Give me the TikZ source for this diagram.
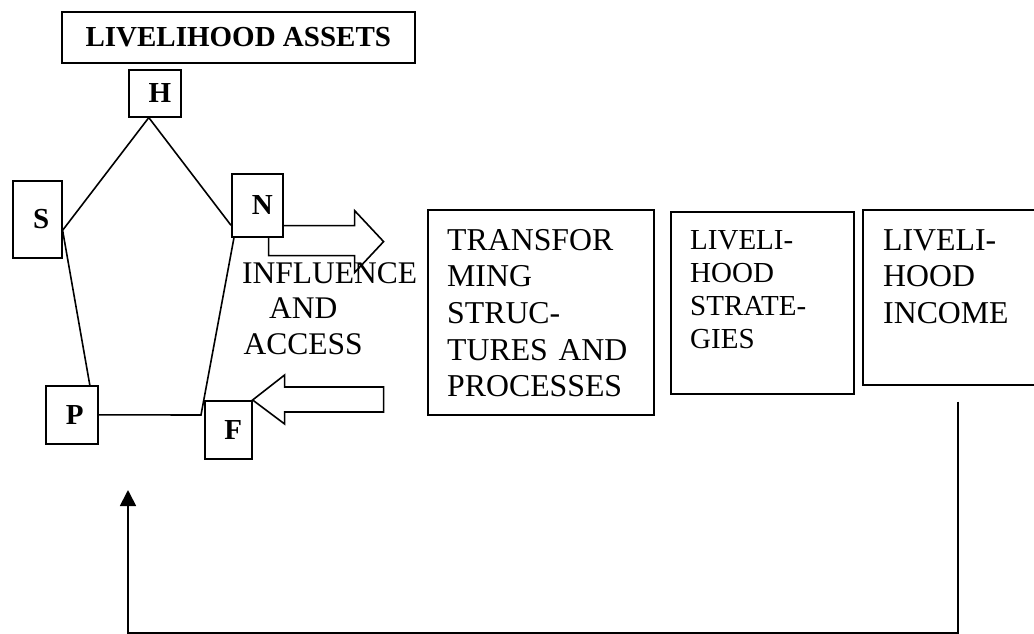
\documentclass[tikz,border=0pt]{standalone}
\usepackage{fontspec}
\setmainfont{Liberation Serif}
\usepackage{tikz}
\usetikzlibrary{positioning,calc,arrows.meta,backgrounds}

\begin{document}
\begin{tikzpicture}[x=1pt, y=-1pt,
    framebox/.style={draw, line width=1.6pt, fill=white, inner sep=0pt, anchor=north west},
    assetbox/.style={framebox, font=\fontsize{29}{34}\selectfont\bfseries},
    boxtext/.style={anchor=base west, align=left, inner sep=0pt, text width=#1},
    linkline/.style={line width=1.6pt},
    blockarrow/.style={draw, line width=1.6pt, fill=white, line join=miter},
    feedback/.style={line width=1.8pt, -{Triangle[width=16pt,length=16pt]}}]
  \useasboundingbox (0,0) rectangle (1034,633);
  \node[framebox, minimum width=353pt, minimum height=51pt,
        font=\fontsize{29}{34}\selectfont\bfseries] (assets) at (61,11) {LIVELIHOOD ASSETS};
  \node[assetbox, minimum width=52pt, minimum height=47pt] (H) at (128,69) {\hspace*{10pt}H};
  \node[assetbox, minimum width=49pt, minimum height=77pt] (S) at (12,180) {\hspace*{8pt}S};
  \node[assetbox, minimum width=51pt, minimum height=63pt] (N) at (231,173) {\hspace*{10pt}N};
  \node[assetbox, minimum width=52pt, minimum height=58pt] (P) at (45,385) {\hspace*{6pt}P};
  \node[assetbox, minimum width=47pt, minimum height=58pt] (F) at (204,400) {\hspace*{10pt}F};
  \coordinate (bend) at (201,415);
  \draw[linkline] ([xshift=-6pt]H.south) -- ([yshift=-11pt]S.east) -- ([xshift=18pt]P.north);
  \draw[linkline] ([xshift=-6pt]H.south) -- ([yshift=-20pt]N.west);
  \draw[linkline] (P.east) -- (bend) -- ([xshift=3pt]N.south west);
  \begin{scope}[on background layer]
    \draw[blockarrow] ([shift={(-15pt,-18pt)}]N.south east) -- ++(86,0) -- ++(0,17)
      -- ++(29,-31) -- ++(-29,-31) -- ++(0,15) -- ++(-86,0) -- cycle;
  \end{scope}
  \draw[blockarrow] (F.north east) -- ++(32,-25) -- ++(0,12) -- ++(99,0) -- ++(0,25)
    -- ++(-99,0) -- ++(0,12) -- cycle;
  \node[anchor=base west, inner sep=0pt, text width=122pt, align=center,
        font=\fontsize{31.5}{35.5}\selectfont] (influence) at (242,283)
    {\mbox{INFLUENCE}\\AND\\ACCESS};
  \node[framebox, minimum width=226pt, minimum height=205pt] (transform) at (427,209) {};
  \node[boxtext=190pt, font=\fontsize{31.8}{36.7}\selectfont] (transformtext)
    at ([shift={(20pt,-41pt)}]transform.north west) {TRANSFOR\\MING\\STRUC-\\TURES AND\\PROCESSES};
  \node[framebox, minimum width=183pt, minimum height=182pt] (strategies) at (670,211) {};
  \node[boxtext=150pt, font=\fontsize{29}{33.3}\selectfont] (strategiestext)
    at ([shift={(20pt,-38pt)}]strategies.north west) {LIVELI-\\HOOD\\STRATE-\\GIES};
  \node[framebox, minimum width=190pt, minimum height=175pt] (income) at (862,209) {};
  \node[boxtext=150pt, font=\fontsize{31.8}{36.7}\selectfont] (incometext)
    at ([shift={(21pt,-41pt)}]income.north west) {LIVELI-\\HOOD\\INCOME};
  \coordinate (loopend) at (128,490);
  \draw[feedback] ([yshift=-16pt]income.south) -- ++(0,231) -| (loopend);
\end{tikzpicture}
\end{document}
